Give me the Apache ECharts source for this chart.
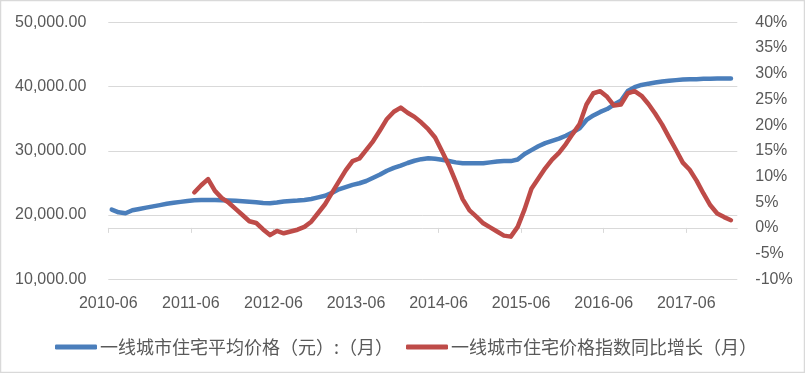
<!DOCTYPE html>
<html>
<head>
<meta charset="utf-8">
<script src="https://cdn.jsdelivr.net/npm/echarts@6/dist/echarts.min.js"></script>
<style>
html,body{margin:0;padding:0;background:#fff;}
#chart{width:805px;height:373px;}
</style>
</head>
<body>
<div id="chart"></div>
<script>
// months 2010-06 .. 2017-12
const months = [];
for (let y = 2010; y <= 2017; y++) {
  for (let m = 1; m <= 12; m++) {
    if (y === 2010 && m < 6) continue;
    months.push(y + '-' + (m < 10 ? '0' + m : m));
  }
}
const tickLabels = ['2010-06','2011-06','2012-06','2013-06','2014-06','2015-06','2016-06','2017-06'];

const avgPrice = [
  20850,20420,20270,20750,20950,21150,21350,21550,21750,21900,
  22050,22200,22300,22350,22350,22330,22300,22280,22230,22150,
  22080,22000,21880,21850,21950,22100,22200,22250,22350,22500,
  22750,23000,23450,24000,24350,24700,24950,25300,25800,26300,
  26900,27350,27700,28100,28450,28700,28850,28750,28600,28400,
  28200,28050,28050,28050,28050,28200,28350,28400,28400,28650,
  29500,30100,30700,31200,31550,31900,32350,32900,33500,34800,
  35500,36050,36500,37200,37800,39300,39900,40250,40450,40620,
  40780,40900,41000,41080,41120,41150,41200,41230,41250,41250,
  41250
];
const yoyStart = '2011-06';
const yoyGrowth = [
  6.9,8.3,9.5,7.2,5.8,4.9,3.7,2.5,1.3,0.95,
  -0.3,-1.4,-0.6,-1.05,-0.7,-0.35,0.2,1.2,2.9,4.6,
  6.8,9.0,11.2,13.0,13.5,15.2,16.9,19.0,21.2,22.6,
  23.4,22.4,21.6,20.5,19.2,17.6,14.9,12.2,9.0,5.6,
  3.4,2.2,0.9,0.1,-0.7,-1.5,-1.7,0.2,3.6,7.6,
  9.6,11.6,13.3,14.6,16.3,18.3,20.2,24.0,26.2,26.6,
  25.5,23.8,24.0,26.2,26.6,25.7,24.1,22.2,20.1,17.6,
  15.2,12.7,11.3,9.2,6.7,4.4,2.8,2.1,1.5
];
const seriesNames = ['一线城市住宅平均价格（元）:（月）','一线城市住宅价格指数同比增长（月）'];

const blueData = avgPrice.map((v, i) => [i, v]);
const off = months.indexOf(yoyStart);
const redData = yoyGrowth.map((v, i) => [i + off, v]);
const tickVals = tickLabels.map(l => months.indexOf(l) - 0.5);
const labelAt = v => {
  const idx = tickVals.findIndex(t => Math.abs(t - v) < 1e-6);
  return idx >= 0 ? tickLabels[idx] : '';
};

const chart = echarts.init(document.getElementById('chart'), null, {renderer: 'canvas'});
const axisFont = {fontFamily: 'Liberation Sans, Arial, sans-serif', fontSize: 16, color: '#595959'};
chart.setOption({
  animation: false,
  backgroundColor: '#fff',
  graphic: [{
    type: 'rect', silent: true, z: 100,
    shape: {x: 0.5, y: 0.5, width: 804, height: 372},
    style: {fill: 'none', stroke: '#d9d9d9', lineWidth: 1.5}
  }],
  grid: {left: 108.3, right: 67.7, top: 22.3, bottom: 93.7, containLabel: false},
  legend: {
    left: 50, top: 331,
    itemWidth: 42, itemHeight: 5, itemGap: 13,
    icon: 'roundRect',
    textStyle: {fontFamily: 'Noto Sans CJK SC, sans-serif', fontSize: 18, color: '#595959', lineHeight: 22, padding: [0, 0, 0, -2]},
    data: seriesNames
  },
  xAxis: {
    type: 'value',
    min: -0.5,
    max: 90.92,
    axisLine: {show: true, lineStyle: {color: '#d9d9d9', width: 1}},
    axisTick: {show: true, length: 5, lineStyle: {color: '#d9d9d9'}, customValues: tickVals},
    axisLabel: Object.assign({margin: 16, customValues: tickVals, formatter: labelAt}, axisFont),
    splitLine: {show: false}
  },
  yAxis: [{
    type: 'value', min: 10000, max: 50000, interval: 10000,
    axisLine: {show: false}, axisTick: {show: false},
    axisLabel: Object.assign({margin: 22, formatter: v => v.toLocaleString('en-US', {minimumFractionDigits: 2, maximumFractionDigits: 2})}, axisFont),
    splitLine: {show: true, lineStyle: {color: '#d9d9d9', width: 1}}
  }, {
    type: 'value', min: -10, max: 40, interval: 5,
    axisLine: {show: false}, axisTick: {show: false},
    axisLabel: Object.assign({margin: 18, formatter: v => v + '%'}, axisFont),
    splitLine: {show: false}
  }],
  series: [{
    name: seriesNames[0], type: 'line', yAxisIndex: 0,
    data: blueData, showSymbol: false, symbol: 'none',
    itemStyle: {color: '#4A7EBB'},
    lineStyle: {color: '#4A7EBB', width: 4.5, cap: 'round', join: 'round'}
  }, {
    name: seriesNames[1], type: 'line', yAxisIndex: 1,
    data: redData, showSymbol: false, symbol: 'none',
    itemStyle: {color: '#BE4B48'},
    lineStyle: {color: '#BE4B48', width: 4.5, cap: 'round', join: 'round'}
  }]
});
</script>
</body>
</html>
